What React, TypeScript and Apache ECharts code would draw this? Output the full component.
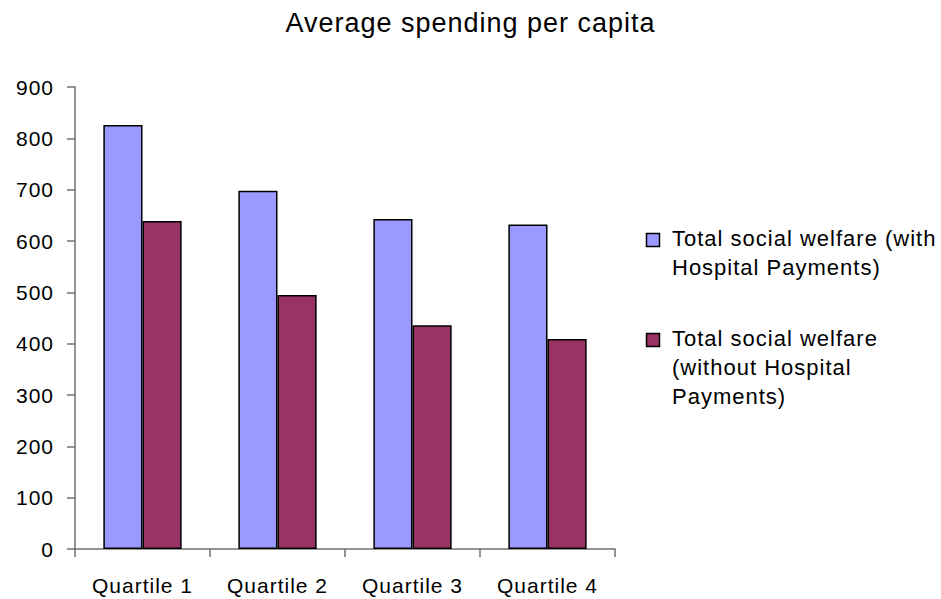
import React, { useEffect, useRef } from "react";
import * as echarts from "echarts";

const chartTitle = "Average spending per capita";
const categories = ["Quartile 1", "Quartile 2", "Quartile 3", "Quartile 4"];
const seriesNames = [
  "Total social welfare (with\nHospital Payments)",
  "Total social welfare\n(without Hospital\nPayments)",
];
const withHospital = [826, 698, 643, 632];
const withoutHospital = [639, 495, 436, 409];
const seriesColors = ["#9999FF", "#993366"];
const yMin = 0;
const yMax = 900;
const yInterval = 100;

const FONT = "'Liberation Sans', Arial, sans-serif";

export default function App() {
  const ref = useRef<HTMLDivElement>(null);

  useEffect(() => {
    document.body.style.margin = "0";
    if (!ref.current) return;
    const chart = echarts.init(ref.current, undefined, { renderer: "svg" });

    const legendTops = [223.6, 323.6];
    const legendGraphics: any[] = [];
    seriesNames.forEach((name, i) => {
      legendGraphics.push({
        type: "rect",
        shape: { x: 646.5, y: legendTops[i] + 10, width: 13, height: 13 },
        style: { fill: seriesColors[i], stroke: "#000", lineWidth: 1.5 },
      });
      legendGraphics.push({
        type: "text",
        x: 672,
        y: legendTops[i],
        style: {
          text: name,
          fill: "#000",
          fontSize: 22,
          fontFamily: FONT,
          lineHeight: 29,
          align: "left",
          verticalAlign: "top",
        },
      });
    });

    const dataSets = [withHospital, withoutHospital];

    chart.setOption({
      animation: false,
      backgroundColor: "#fff",
      title: {
        text: chartTitle,
        left: "center",
        top: 4,
        textStyle: { fontFamily: FONT, fontSize: 27, fontWeight: "normal", color: "#000" },
      },
      grid: { left: 75, right: 326, top: 87, bottom: 50, containLabel: false },
      xAxis: {
        type: "category",
        data: categories,
        axisLine: { lineStyle: { color: "#707070", width: 1.5 } },
        axisTick: { show: true, length: 8, lineStyle: { color: "#707070", width: 1.5 } },
        axisLabel: { fontFamily: FONT, fontSize: 21, color: "#000", margin: 26 },
        splitLine: { show: false },
      },
      yAxis: {
        type: "value",
        min: yMin,
        max: yMax,
        interval: yInterval,
        axisLine: { show: true, lineStyle: { color: "#707070", width: 1.5 } },
        axisTick: { show: true, length: 8, lineStyle: { color: "#707070", width: 1.5 } },
        axisLabel: { fontFamily: FONT, fontSize: 21, color: "#000", margin: 21 },
        splitLine: { show: false },
      },
      series: dataSets.map((d, i) => ({
        type: "bar",
        name: seriesNames[i],
        data: d,
        barGap: "0%",
        barCategoryGap: "42%",
        itemStyle: { color: seriesColors[i], borderColor: "#000", borderWidth: 1.5 },
      })),
      graphic: legendGraphics,
    });

    return () => chart.dispose();
  }, []);

  return <div ref={ref} style={{ width: 941, height: 599, letterSpacing: "1px" }} />;
}
